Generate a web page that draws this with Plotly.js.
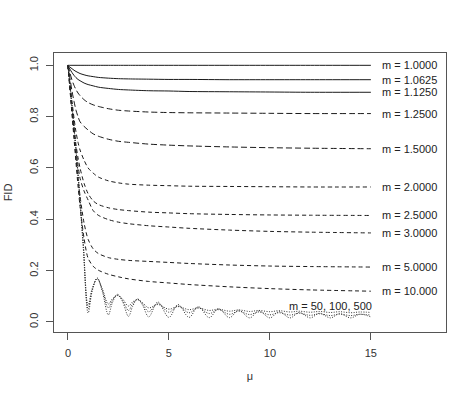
<!DOCTYPE html>
<html>
<head>
<meta charset="utf-8">
<script src="https://cdn.plot.ly/plotly-3.0.1.min.js"></script>
<style>html,body{margin:0;padding:0;background:#fff;}#chart{width:474px;height:399px;}</style>
</head>
<body>
<div id="chart"></div>
<script>
// smooth curves sampling points (mu)
const xSmooth = [0, 0.1, 0.2, 0.3, 0.4, 0.5, 0.6, 0.8, 1.0, 1.25, 1.5, 2, 2.5, 3, 4, 5, 6, 8, 10, 12, 15];
const fid_m1_0000 = [1,1,1,1,1,1,1,1,1,1,1,1,1,1,1,1,1,1,1,1,1];
const fid_m1_0625 = [1,0.993,0.987,0.981,0.976,0.972,0.968,0.963,0.959,0.956,0.953,0.950,0.948,0.947,0.946,0.945,0.945,0.944,0.944,0.944,0.944];
const fid_m1_1250 = [1,0.985,0.972,0.961,0.952,0.945,0.940,0.931,0.925,0.920,0.915,0.910,0.906,0.904,0.901,0.900,0.898,0.897,0.896,0.895,0.895];
const fid_m1_2500 = [1,0.970,0.943,0.922,0.905,0.892,0.882,0.866,0.855,0.846,0.840,0.831,0.825,0.822,0.818,0.816,0.815,0.814,0.813,0.812,0.812];
const fid_m1_5000 = [1,0.950,0.900,0.860,0.825,0.800,0.780,0.762,0.748,0.733,0.724,0.712,0.704,0.700,0.693,0.689,0.686,0.682,0.679,0.677,0.675];
const fid_m2_0000 = [1,0.930,0.860,0.795,0.740,0.700,0.670,0.630,0.600,0.580,0.565,0.550,0.542,0.537,0.533,0.531,0.529,0.528,0.527,0.526,0.526];
const fid_m2_5000 = [1,0.920,0.840,0.760,0.690,0.640,0.600,0.540,0.500,0.472,0.458,0.445,0.438,0.434,0.428,0.425,0.422,0.419,0.417,0.416,0.415];
const fid_m3_0000 = [1,0.920,0.830,0.750,0.670,0.610,0.560,0.510,0.475,0.434,0.416,0.399,0.389,0.383,0.375,0.370,0.365,0.358,0.353,0.350,0.347];
const fid_m5_0000 = [1,0.910,0.820,0.730,0.640,0.560,0.490,0.385,0.322,0.285,0.267,0.251,0.244,0.240,0.236,0.232,0.228,0.222,0.218,0.216,0.214];
const fid_m10_000 = [1,0.905,0.810,0.715,0.620,0.530,0.450,0.325,0.248,0.217,0.202,0.186,0.176,0.168,0.158,0.152,0.146,0.137,0.130,0.125,0.120];

// oscillating curves sampling points (mu)
const xOsc = [0,0.25,0.5,0.75,1.0,1.2,1.45,1.7,2.0,2.2,2.45,2.7,3.0,3.2,3.45,3.7,4.0,4.45,5.0,5.45,6.0,6.45,7.0,7.45,8.0,8.45,9.0,9.45,10.0,10.45,11.0,11.45,12.0,12.45,13.0,13.45,14.0,14.45,15.0];
const fid_m50  = [1,0.805,0.58,0.32,0.065,0.13,0.168,0.13,0.07,0.09,0.103,0.09,0.062,0.078,0.087,0.075,0.055,0.068,0.05,0.06,0.048,0.055,0.045,0.05,0.042,0.047,0.041,0.045,0.04,0.044,0.039,0.042,0.038,0.041,0.037,0.04,0.036,0.039,0.037];
const fid_m100 = [1,0.80,0.575,0.31,0.05,0.125,0.17,0.125,0.055,0.085,0.105,0.085,0.045,0.07,0.088,0.07,0.04,0.072,0.038,0.062,0.036,0.055,0.033,0.048,0.03,0.042,0.029,0.039,0.028,0.036,0.027,0.034,0.026,0.032,0.025,0.031,0.025,0.03,0.027];
const fid_m500 = [1,0.80,0.57,0.30,0.035,0.12,0.172,0.12,0.028,0.075,0.108,0.08,0.022,0.06,0.09,0.065,0.02,0.078,0.018,0.068,0.018,0.06,0.017,0.052,0.017,0.046,0.016,0.043,0.016,0.04,0.016,0.037,0.016,0.034,0.016,0.032,0.016,0.03,0.02];

const labels = ["m = 1.0000","m = 1.0625","m = 1.1250","m = 1.2500","m = 1.5000","m = 2.0000","m = 2.5000","m = 3.0000","m = 5.0000","m = 10.000"];
const oscLabel = "m = 50, 100, 500";
const xTicks = [0, 5, 10, 15];
const yTicks = [0, 0.2, 0.4, 0.6, 0.8, 1.0];
const yTickText = ["0.0","0.2","0.4","0.6","0.8","1.0"];

const smoothSeries = [fid_m1_0000, fid_m1_0625, fid_m1_1250, fid_m1_2500, fid_m1_5000, fid_m2_0000, fid_m2_5000, fid_m3_0000, fid_m5_0000, fid_m10_000];
const dashes = ["solid","solid","solid","6px,3px","6px,3px","4px,3px","4px,3px","4px,3px","4px,3px","4px,3px"];
const lineColor = "#1a1a1a";

const traces = smoothSeries.map((ys, i) => ({
  x: xSmooth, y: ys, type: "scatter", mode: "lines",
  line: {color: lineColor, width: 1, dash: dashes[i], shape: "spline", smoothing: 0.8},
  hoverinfo: "skip", showlegend: false
}));
[fid_m50, fid_m100, fid_m500].forEach(ys => traces.push({
  x: xOsc, y: ys, type: "scatter", mode: "lines",
  line: {color: "#333", width: 1, dash: "1px,1.5px", shape: "spline", smoothing: 1},
  hoverinfo: "skip", showlegend: false
}));

const annotations = labels.map((t, i) => ({
  x: 16.9, y: smoothSeries[i][smoothSeries[i].length - 1], text: t, showarrow: false,
  xanchor: "center", yanchor: "middle", font: {family: "Liberation Sans, Arial", size: 11, color: "#222"}
}));
annotations.push({x: 13.0, y: 0.063, text: oscLabel, showarrow: false, xanchor: "center", yanchor: "middle",
  font: {family: "Liberation Sans, Arial", size: 11, color: "#222"}});

const axisCommon = {
  showgrid: false, zeroline: false, showline: true, mirror: true, linecolor: "#555", linewidth: 1,
  ticks: "outside", ticklen: 7, tickcolor: "#555", tickwidth: 1,
  tickfont: {family: "Liberation Sans, Arial", size: 11, color: "#333"}
};

const layout = {
  width: 474, height: 399,
  margin: {l: 54, r: 28, t: 53, b: 67},
  paper_bgcolor: "#fff", plot_bgcolor: "#fff",
  xaxis: Object.assign({}, axisCommon, {
    range: [-0.69, 18.72], tickmode: "array", tickvals: xTicks, ticktext: xTicks.map(String),
    ticklabelstandoff: 4,
    title: {text: "μ", font: {family: "Liberation Sans, Arial", size: 11, color: "#333"}, standoff: 14}
  }),
  yaxis: Object.assign({}, axisCommon, {
    range: [-0.039, 1.048], tickmode: "array", tickvals: yTicks, ticktext: yTickText, tickangle: -90,
    ticklabelstandoff: 4,
    title: {text: "FID", font: {family: "Liberation Sans, Arial", size: 11, color: "#333"}, standoff: 12}
  }),
  annotations: annotations
};

Plotly.newPlot("chart", traces, layout, {displayModeBar: false, staticPlot: true});
</script>
</body>
</html>
